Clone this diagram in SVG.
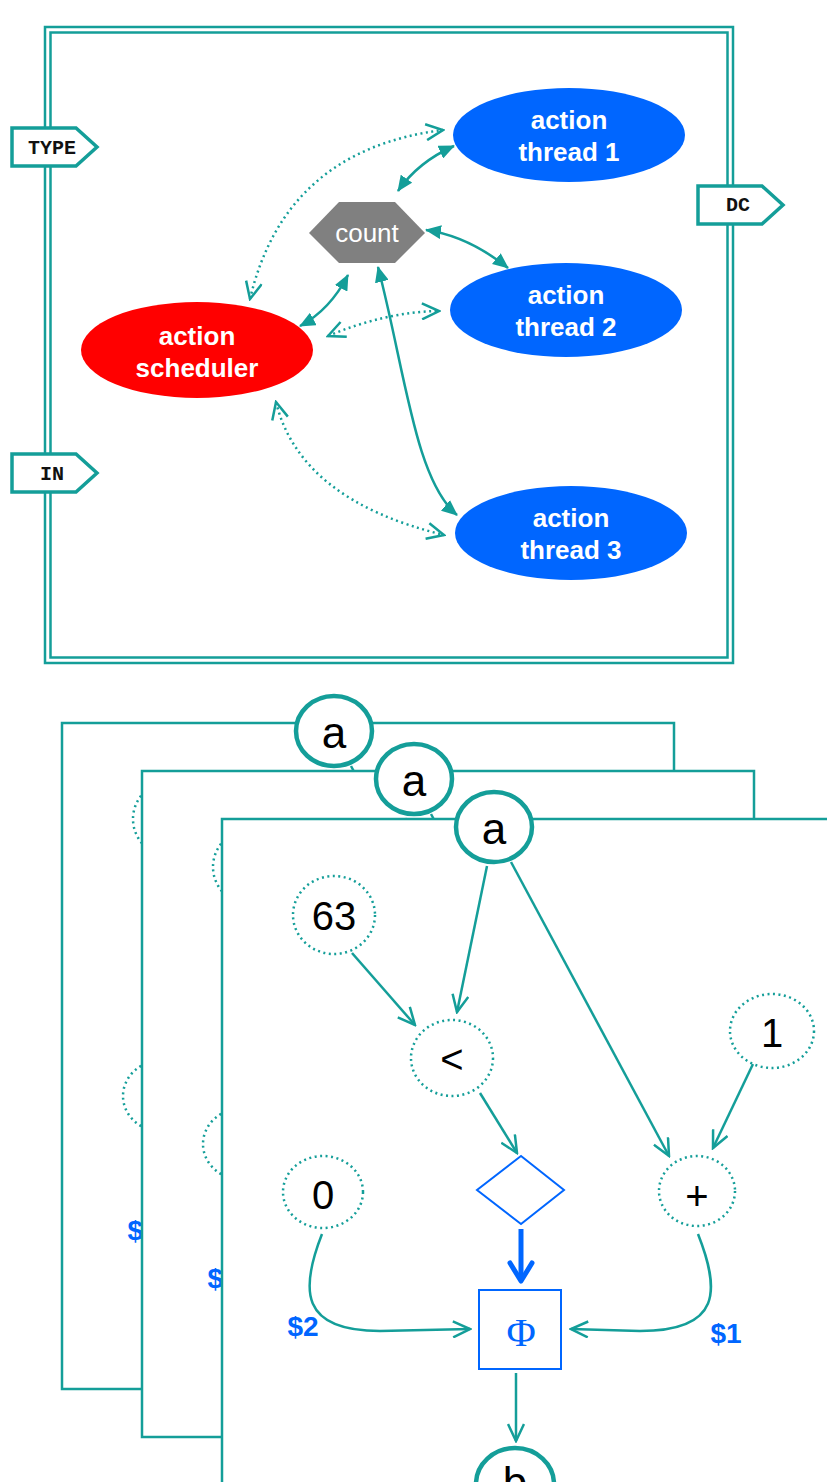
<svg xmlns="http://www.w3.org/2000/svg" xmlns:xlink="http://www.w3.org/1999/xlink" width="827" height="1482" viewBox="0 0 827 1482">
  <style>
    .frame{fill:none;stroke:#149e99;stroke-width:2.5}
    .tag path{fill:#fff;stroke:#149e99;stroke-width:3.5}
    .tag text{font-family:"Liberation Mono","DejaVu Sans Mono",monospace;font-weight:bold;font-size:20px;fill:#111;text-anchor:middle}
    .actor text{font-family:"Liberation Sans",Arial,sans-serif;font-weight:bold;font-size:26px;fill:#fff;text-anchor:middle}
    .counter text{font-family:"Liberation Sans",Arial,sans-serif;font-size:26px;fill:#fff;text-anchor:middle}
    .link{fill:none;stroke:#149e99;stroke-width:2.5}
    .dot{fill:none;stroke:#149e99;stroke-width:2.5;stroke-dasharray:2 3.5}
    .page{fill:#fff;stroke:#149e99;stroke-width:2.5}
    .var ellipse{fill:#fff;stroke:#149e99;stroke-width:4.5}
    .op ellipse{fill:#fff;stroke:#149e99;stroke-width:2.5;stroke-dasharray:2 3.5}
    .lbl{font-family:"Liberation Sans",Arial,sans-serif;font-size:40px;fill:#000;text-anchor:middle}
    .port{font-family:"Liberation Sans",Arial,sans-serif;font-weight:bold;font-size:28px;fill:#0066ff;text-anchor:middle}
  </style>
  <defs>
    <!-- filled head, used at both ends of solid links -->
    <marker id="solid-head" markerUnits="userSpaceOnUse" viewBox="0 0 16 14" markerWidth="16" markerHeight="14" refX="15" refY="7" orient="auto-start-reverse">
      <path d="M0,0 L16,7 L0,14 Z" fill="#149e99"/>
    </marker>
    <!-- open chevron head -->
    <marker id="open-head" markerUnits="userSpaceOnUse" viewBox="0 0 20 18" markerWidth="20" markerHeight="18" refX="18" refY="9" orient="auto-start-reverse">
      <path d="M1,1 L18,9 L1,17" fill="none" stroke="#149e99" stroke-width="2.5"/>
    </marker>
  </defs>

  <!-- ===== upper panel: scheduler and threads ===== -->
  <g id="container">
    <rect class="frame" x="45" y="27" width="688" height="636"/>
    <rect class="frame" x="50.5" y="32.5" width="677" height="625"/>
  </g>

  <g id="tag-type" class="tag">
    <path d="M12,128 H76 L97,147 L76,166 H12 Z"/>
    <text x="52" y="154">TYPE</text>
  </g>
  <g id="tag-in" class="tag">
    <path d="M12,454 H76 L97,473 L76,492 H12 Z"/>
    <text x="52" y="480">IN</text>
  </g>
  <g id="tag-dc" class="tag">
    <path d="M698,186 H762 L783,205 L762,224 H698 Z"/>
    <text x="738" y="211">DC</text>
  </g>

  <g id="connectors-top">
    <path class="dot" d="M250,299 Q285,150 443,130" marker-start="url(#open-head)" marker-end="url(#open-head)"/>
    <path class="dot" d="M328,336 Q385,312 439,311" marker-start="url(#open-head)" marker-end="url(#open-head)"/>
    <path class="dot" d="M276,402 Q300,500 444,535" marker-start="url(#open-head)" marker-end="url(#open-head)"/>
    <path class="link" d="M398,191 Q418,162 454,146" marker-start="url(#solid-head)" marker-end="url(#solid-head)"/>
    <path class="link" d="M426,230 Q468,236 508,268" marker-start="url(#solid-head)" marker-end="url(#solid-head)"/>
    <path class="link" d="M348,275 Q330,310 300,326" marker-start="url(#solid-head)" marker-end="url(#solid-head)"/>
    <path class="link" d="M378,267 C405,370 415,480 457,515" marker-start="url(#solid-head)" marker-end="url(#solid-head)"/>
  </g>

  <g id="count" class="counter">
    <polygon points="309,233 339,202 395,202 425,233 395,263 339,263" fill="#808080"/>
    <text x="367" y="242">count</text>
  </g>
  <g id="thread-1" class="actor">
    <ellipse cx="569" cy="135" rx="116" ry="47" fill="#0066ff"/>
    <text x="569" y="129">action</text>
    <text x="569" y="161">thread 1</text>
  </g>
  <g id="thread-2" class="actor">
    <ellipse cx="566" cy="310" rx="116" ry="47" fill="#0066ff"/>
    <text x="566" y="304">action</text>
    <text x="566" y="336">thread 2</text>
  </g>
  <g id="thread-3" class="actor">
    <ellipse cx="571" cy="533" rx="116" ry="47" fill="#0066ff"/>
    <text x="571" y="527">action</text>
    <text x="571" y="559">thread 3</text>
  </g>
  <g id="scheduler" class="actor">
    <ellipse cx="197" cy="350" rx="116" ry="48" fill="#ff0000"/>
    <text x="197" y="345">action</text>
    <text x="197" y="377">scheduler</text>
  </g>

  <!-- ===== lower panel: stacked loop-body pages ===== -->
  <use xlink:href="#page-front" href="#page-front" transform="translate(-160,-96)"/>
  <use xlink:href="#page-front" href="#page-front" transform="translate(-80,-48)"/>

  <g id="page-front">
    <rect class="page" x="222" y="819" width="612" height="666"/>

    <g id="page-connectors">
      <path class="link" d="M487,866 L457,1012" marker-end="url(#open-head)"/>
      <path class="link" d="M511,862 L669,1156" marker-end="url(#open-head)"/>
      <path class="link" d="M352,953 L415,1025" marker-end="url(#open-head)"/>
      <path class="link" d="M753,1064 L713,1148" marker-end="url(#open-head)"/>
      <path class="link" d="M480,1093 L517,1153" marker-end="url(#open-head)"/>
      <path class="link" d="M322,1234 C300,1290 300,1331 380,1331 L470,1329" marker-end="url(#open-head)"/>
      <path class="link" d="M698,1234 C720,1290 722,1331 640,1331 L571,1329" marker-end="url(#open-head)"/>
      <path class="link" d="M516,1373 L516,1441" marker-end="url(#open-head)"/>
      <path d="M521,1229 V1279" fill="none" stroke="#0066ff" stroke-width="5"/>
      <path d="M510,1263 L521,1281 L532,1263" fill="none" stroke="#0066ff" stroke-width="5" stroke-linejoin="round" stroke-linecap="round"/>
    </g>

    <g id="node-a" class="var">
      <ellipse cx="494" cy="827" rx="38" ry="35"/>
      <text class="lbl" x="494" y="844" style="font-size:44px">a</text>
    </g>
    <g id="node-63" class="op">
      <ellipse cx="334" cy="915" rx="41" ry="39"/>
      <text class="lbl" x="334" y="930">63</text>
    </g>
    <g id="node-lt" class="op">
      <ellipse cx="452" cy="1058" rx="41" ry="38"/>
      <text class="lbl" x="452" y="1073">&lt;</text>
    </g>
    <g id="node-1" class="op">
      <ellipse cx="772" cy="1031" rx="42" ry="37"/>
      <text class="lbl" x="772" y="1047">1</text>
    </g>
    <g id="node-plus" class="op">
      <ellipse cx="697" cy="1191" rx="38" ry="35"/>
      <text class="lbl" x="697" y="1210">+</text>
    </g>
    <g id="node-0" class="op">
      <ellipse cx="323" cy="1192" rx="40" ry="36"/>
      <text class="lbl" x="323" y="1209">0</text>
    </g>
    <g id="node-branch">
      <polygon points="521,1156 477,1190 521,1224 564,1190" fill="#fff" stroke="#0066ff" stroke-width="2"/>
    </g>
    <g id="node-phi">
      <rect x="479" y="1290" width="82" height="79" fill="#fff" stroke="#0066ff" stroke-width="2"/>
      <text x="521" y="1346" style="font-family:'Liberation Serif','Times New Roman',serif;font-size:40px;fill:#0066ff;text-anchor:middle">Φ</text>
    </g>
    <g id="node-b" class="var">
      <ellipse cx="515" cy="1484" rx="39" ry="36"/>
      <text class="lbl" x="515" y="1498" style="font-size:44px">b</text>
    </g>
    <g id="port-labels">
      <text class="port" x="303" y="1336">$2</text>
      <text class="port" x="726" y="1343">$1</text>
    </g>
  </g>
</svg>
